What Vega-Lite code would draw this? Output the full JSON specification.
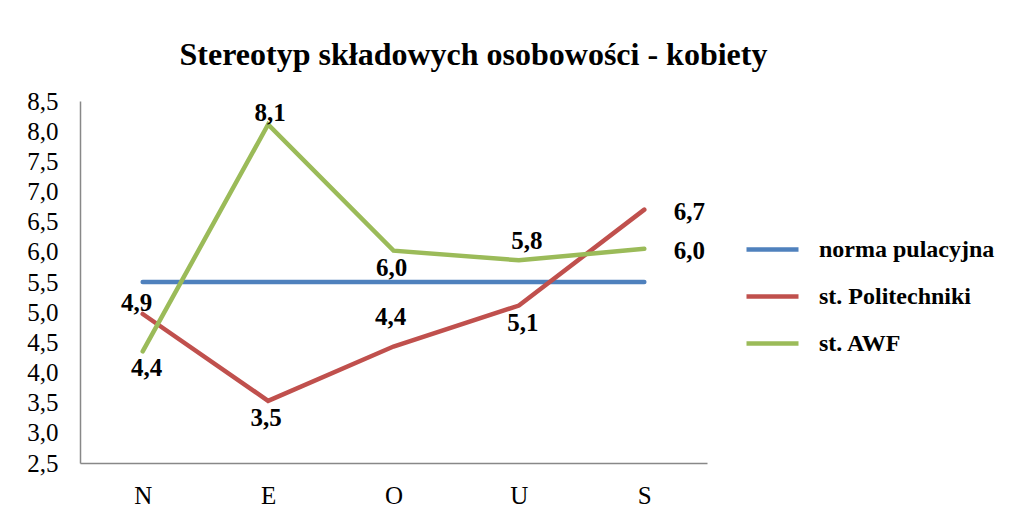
{
  "$schema": "https://vega.github.io/schema/vega-lite/v6.json",
  "autosize": {"type": "none"},
  "width": 627,
  "height": 362,
  "padding": {"left": 80, "top": 101, "right": 316, "bottom": 59},
  "background": "white",
  "title": {
    "text": "Stereotyp składowych osobowości - kobiety",
    "font": "Liberation Serif",
    "fontSize": 32,
    "fontWeight": "bold",
    "color": "black",
    "anchor": "middle",
    "dx": 80,
    "offset": 17
  },
  "data": {
    "values": [
      {"k": "N", "s": "norma pulacyjna", "v": 5.5, "t": ""},
      {"k": "E", "s": "norma pulacyjna", "v": 5.5, "t": ""},
      {"k": "O", "s": "norma pulacyjna", "v": 5.5, "t": ""},
      {"k": "U", "s": "norma pulacyjna", "v": 5.5, "t": ""},
      {"k": "S", "s": "norma pulacyjna", "v": 5.5, "t": ""},
      {"k": "N", "s": "st. Politechniki", "v": 4.97, "t": "4,9"},
      {"k": "E", "s": "st. Politechniki", "v": 3.53, "t": "3,5"},
      {"k": "O", "s": "st. Politechniki", "v": 4.43, "t": "4,4"},
      {"k": "U", "s": "st. Politechniki", "v": 5.11, "t": "5,1"},
      {"k": "S", "s": "st. Politechniki", "v": 6.7, "t": "6,7"},
      {"k": "N", "s": "st. AWF", "v": 4.35, "t": "4,4"},
      {"k": "E", "s": "st. AWF", "v": 8.11, "t": "8,1"},
      {"k": "O", "s": "st. AWF", "v": 6.02, "t": "6,0"},
      {"k": "U", "s": "st. AWF", "v": 5.86, "t": "5,8"},
      {"k": "S", "s": "st. AWF", "v": 6.05, "t": "6,0"}
    ]
  },
  "encoding": {
    "x": {
      "field": "k", "type": "ordinal", "sort": ["N", "E", "O", "U", "S"],
      "scale": {"type": "point", "padding": 0.5},
      "axis": {"title": null, "labelAngle": 0, "ticks": false, "labelPadding": 20, "grid": false}
    },
    "y": {
      "field": "v", "type": "quantitative",
      "scale": {"domain": [2.5, 8.5], "nice": false, "zero": false},
      "axis": {
        "title": null, "ticks": false, "grid": false, "labelPadding": 22,
        "values": [2.5, 3, 3.5, 4, 4.5, 5, 5.5, 6, 6.5, 7, 7.5, 8, 8.5],
        "labelExpr": "replace(format(datum.value, '.1f'), '.', ',')"
      }
    }
  },
  "layer": [
    {
      "mark": {"type": "line", "strokeWidth": 4.5, "strokeCap": "round", "strokeJoin": "miter"},
      "encoding": {
        "color": {
          "field": "s", "type": "nominal",
          "scale": {"domain": ["norma pulacyjna", "st. Politechniki", "st. AWF"], "range": ["#4F81BD", "#C0504D", "#9BBB59"]},
          "legend": {
            "title": null, "orient": "none", "legendX": 664, "legendY": 120,
            "symbolType": "stroke", "symbolStrokeWidth": 4.5, "symbolSize": 2704,
            "labelFont": "Liberation Serif", "labelFontSize": 24, "labelFontWeight": "bold",
            "labelColor": "black", "labelOffset": 18, "rowPadding": 6, "labelLimit": 0
          }
        }
      }
    },
    {
      "transform": [{"filter": "datum.s == 'st. AWF' && datum.k == 'E'"}],
      "mark": {"type": "text", "dy": -12, "dx": 2, "font": "Liberation Serif", "fontSize": 25, "fontWeight": "bold", "color": "black"},
      "encoding": {"text": {"field": "t"}}
    },
    {
      "transform": [{"filter": "datum.s == 'st. Politechniki' && datum.k == 'N'"}],
      "mark": {"type": "text", "dy": -11, "dx": -6, "font": "Liberation Serif", "fontSize": 25, "fontWeight": "bold", "color": "black"},
      "encoding": {"text": {"field": "t"}}
    },
    {
      "transform": [{"filter": "(datum.s == 'st. AWF' && datum.k == 'O') || (datum.s == 'st. Politechniki' && datum.k == 'E')"}],
      "mark": {"type": "text", "dy": 17, "dx": -2, "font": "Liberation Serif", "fontSize": 25, "fontWeight": "bold", "color": "black"},
      "encoding": {"text": {"field": "t"}}
    },
    {
      "transform": [{"filter": "(datum.s == 'st. AWF' && datum.k == 'N') || (datum.s == 'st. Politechniki' && datum.k == 'U')"}],
      "mark": {"type": "text", "dy": 17, "dx": 4, "font": "Liberation Serif", "fontSize": 25, "fontWeight": "bold", "color": "black"},
      "encoding": {"text": {"field": "t"}}
    },
    {
      "transform": [{"filter": "datum.s == 'st. Politechniki' && datum.k == 'O'"}],
      "mark": {"type": "text", "dy": -30, "dx": -3, "font": "Liberation Serif", "fontSize": 25, "fontWeight": "bold", "color": "black"},
      "encoding": {"text": {"field": "t"}}
    },
    {
      "transform": [{"filter": "datum.s == 'st. AWF' && datum.k == 'U'"}],
      "mark": {"type": "text", "dy": -19, "dx": 8, "font": "Liberation Serif", "fontSize": 25, "fontWeight": "bold", "color": "black"},
      "encoding": {"text": {"field": "t"}}
    },
    {
      "transform": [{"filter": "datum.s != 'norma pulacyjna' && datum.k == 'S'"}],
      "mark": {"type": "text", "dx": 45, "dy": 2, "font": "Liberation Serif", "fontSize": 25, "fontWeight": "bold", "color": "black"},
      "encoding": {"text": {"field": "t"}}
    }
  ],
  "config": {
    "view": {"stroke": null},
    "axis": {
      "domainColor": "#888888", "domainWidth": 1.5,
      "labelFont": "Liberation Serif", "labelFontSize": 25, "labelColor": "black"
    }
  }
}
